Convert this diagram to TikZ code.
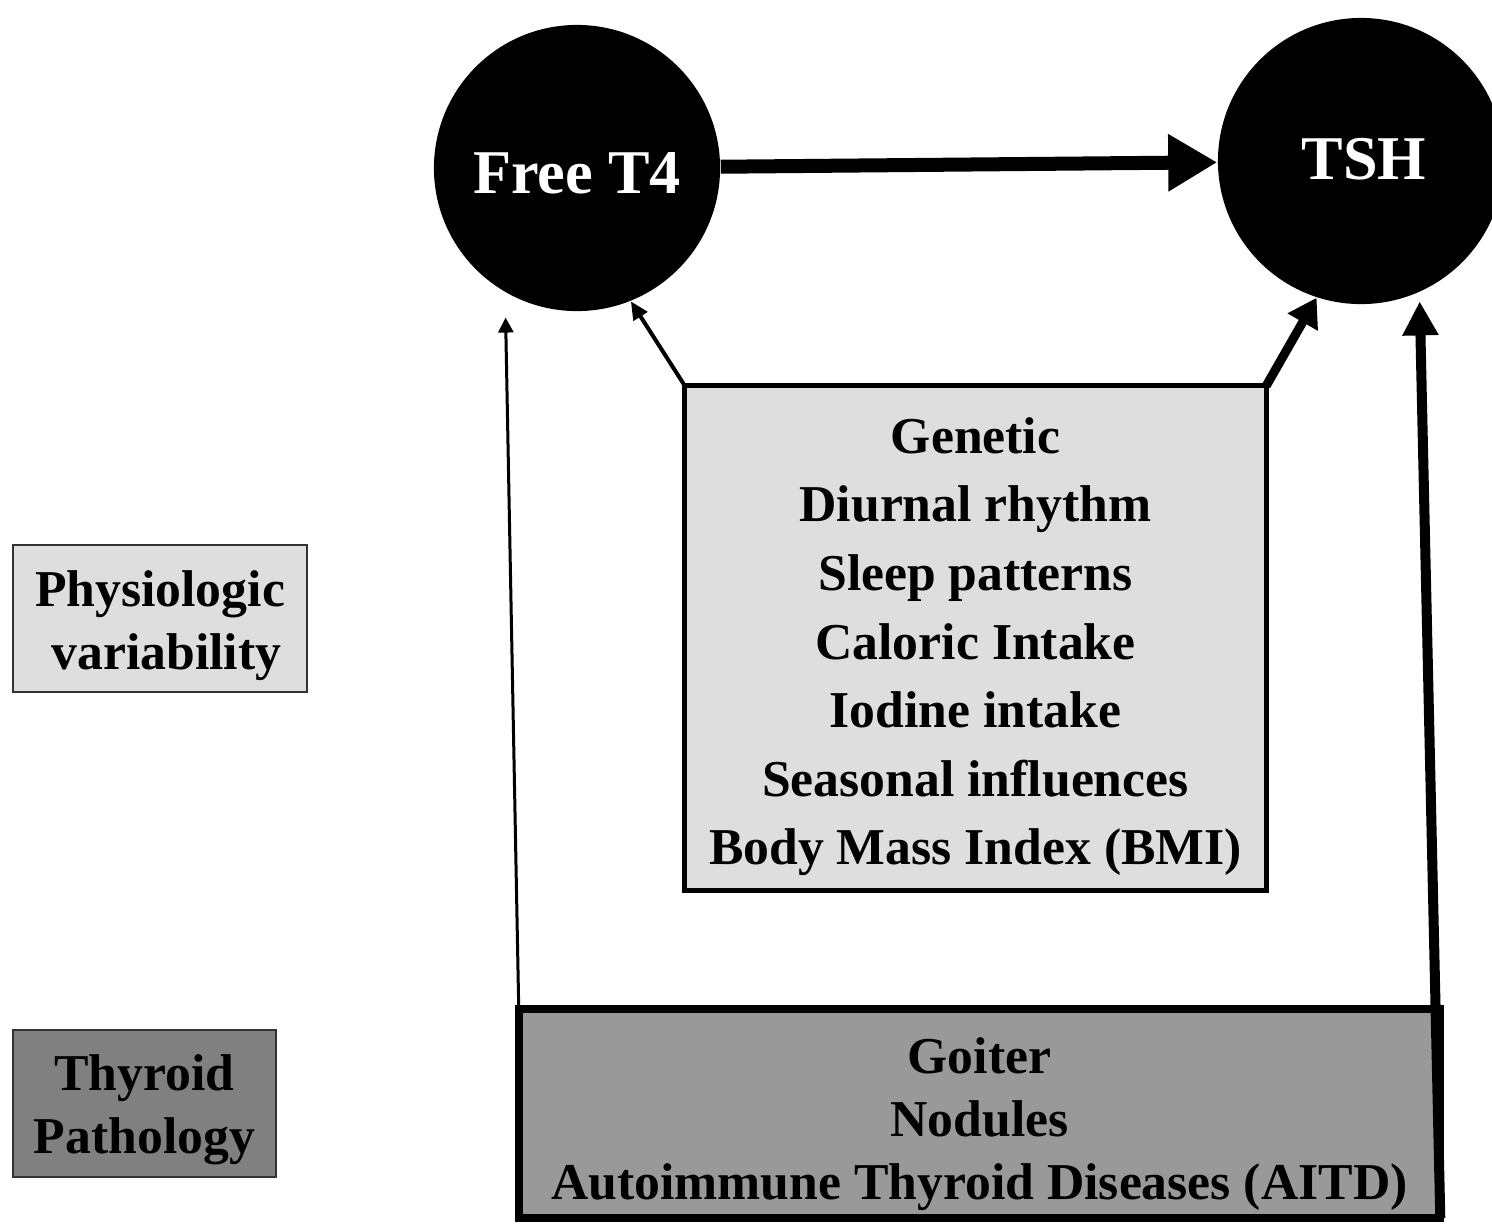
\documentclass[tikz,border=0pt]{standalone}
\usepackage{fontspec}
\setmainfont{Liberation Serif}
\usetikzlibrary{arrows.meta}

\begin{document}
\begin{tikzpicture}[x=0.01cm,y=-0.01cm,
	hormone/.style={circle,fill=black,text=white,minimum size=2.86cm,inner sep=0pt,
		font=\fontsize{17.7}{20}\selectfont\bfseries},
	factorbox/.style={draw,outer sep=0pt,inner sep=0pt,align=center,
		font=\fontsize{14.7}{17.9}\selectfont\bfseries},
	tag/.style={draw=black!80,line width=0.02cm,outer sep=0pt,inner sep=0pt,align=center,
		font=\fontsize{14.7}{17.9}\selectfont\bfseries}
]
\colorlet{LGT}{black!13}
\colorlet{MED}{black!40}
\colorlet{DRK}{black!50}

\useasboundingbox (0,0) rectangle (1492,1223);

% Hormones
\node[hormone] (ft4) at (577,168) {\raisebox{0pt}[14.3pt][0pt]{Free T4}};
\node[hormone] (tsh) at (1361,161) {\raisebox{0pt}[12pt][1.7pt]{\hspace{0.06cm}TSH}};

% Factor boxes
\node[factorbox,fill=LGT,line width=0.05cm,minimum width=5.81cm,minimum height=5.04cm,
	font=\fontsize{14.7}{19.5}\selectfont\bfseries] (physio) at (975.5,638)
	{\raisebox{0pt}[15.1pt]{Genetic}\\Diurnal rhythm\\Sleep patterns\\Caloric Intake\\Iodine intake\\Seasonal influences\\Body Mass Index (BMI)};
\node[factorbox,fill=MED,line width=0.08cm,minimum width=9.21cm,minimum height=2.09cm] (patho) at (979.5,1113.5)
	{\raisebox{0pt}[16.2pt]{Goiter}\\Nodules\\Autoimmune Thyroid Diseases (AITD)};

% Legend
\node[tag,fill=LGT,minimum width=2.94cm,minimum height=1.47cm] (physiotag) at (160,618.5)
	{\raisebox{0pt}[14pt]{Physiologic}\\\ variability};
\node[tag,fill=DRK,minimum width=2.63cm,minimum height=1.47cm] (pathotag) at (144.5,1103.5)
	{\raisebox{0pt}[14pt]{Thyroid}\\Pathology};

% Arrows
\draw[line width=0.14cm,-{Triangle[length=0.49cm,width=0.54cm]}] (ft4) -- (tsh);
\draw[line width=0.04cm,-{Triangle[length=0.18cm,width=0.16cm]}] (physio.north west) -- (ft4.-68);
\draw[line width=0.09cm,-{Triangle[length=0.28cm,width=0.33cm]}] (physio.north east) -- (tsh.-108);
\draw[line width=0.03cm,-{Triangle[length=0.15cm,width=0.15cm]},shorten >=0.25cm] (patho.north west) -- (ft4.-120);
\draw[line width=0.1cm,-{Triangle[length=0.34cm,width=0.34cm]},shorten >=0.09cm] (patho.south east) -- (tsh.-66);

\end{tikzpicture}
\end{document}
